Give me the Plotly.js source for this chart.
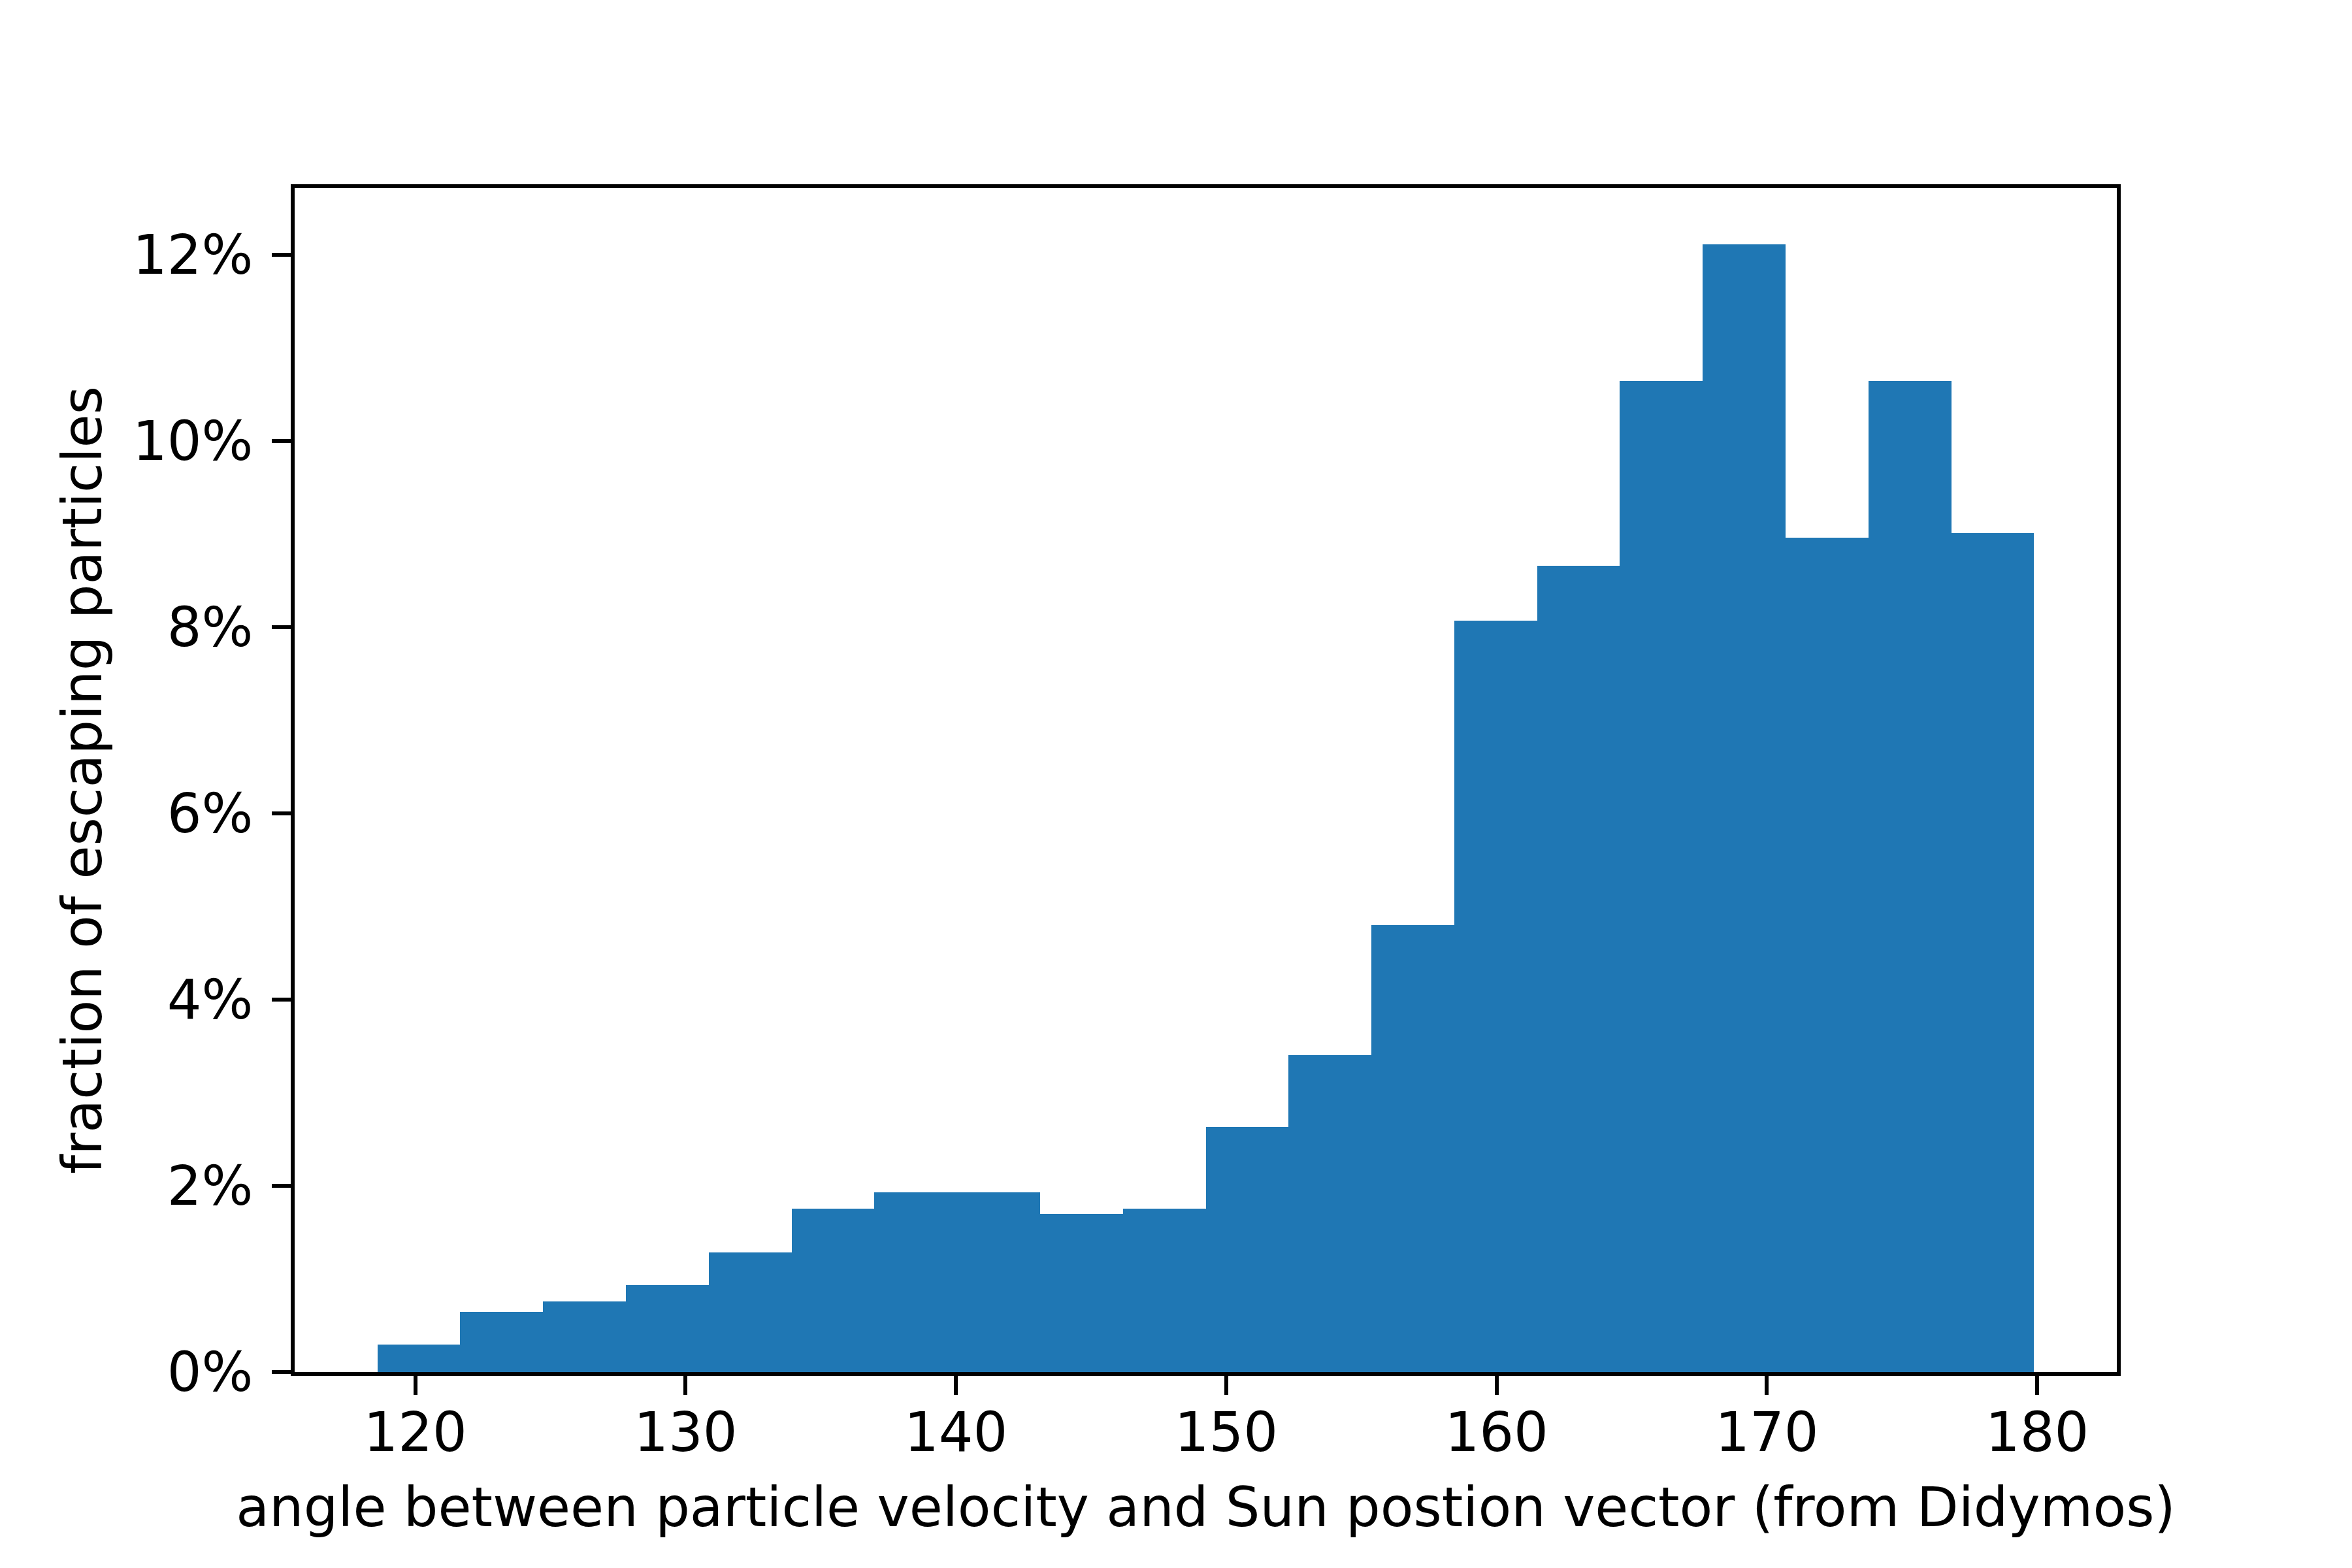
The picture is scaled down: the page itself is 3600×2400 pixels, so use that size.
<!DOCTYPE html>
<html>
<head>
<meta charset="utf-8">
<script src="https://cdn.plot.ly/plotly-3.0.1.min.js"></script>
<style>
  html, body { margin: 0; padding: 0; background: #fff; }
</style>
</head>
<body>
<div id="hist-angle"></div>
<script>
// bin edges (deg), 20 bins
var bin_edges = [118.60, 121.66, 124.73, 127.79, 130.86, 133.92, 136.98,
  140.05, 143.11, 146.18, 149.24, 152.30, 155.37, 158.43, 161.50, 164.56,
  167.62, 170.69, 173.75, 176.82, 179.88];

// fraction of escaping particles per bin (%)
var frac_pct = [0.295, 0.646, 0.758, 0.933, 1.284, 1.754, 1.930, 1.930,
  1.698, 1.754, 2.630, 3.400, 4.800, 8.070, 8.660, 10.645, 12.110, 8.960,
  10.645, 9.010];

var y_ticks = [0, 2, 4, 6, 8, 10, 12];
var y_labels = ['0%', '2%', '4%', '6%', '8%', '10%', '12%'];
var x_ticks = [120, 130, 140, 150, 160, 170, 180];

var mids = [], widths = [];
for (var i = 0; i < frac_pct.length; i++) {
  mids.push((bin_edges[i] + bin_edges[i + 1]) / 2);
  widths.push(bin_edges[i + 1] - bin_edges[i]);
}

var pad = (bin_edges[bin_edges.length - 1] - bin_edges[0]) * 0.05;
var ymax = Math.max.apply(null, frac_pct) * 1.05;

var trace1 = {
  x: mids,
  y: frac_pct,
  width: widths,
  type: 'bar',
  marker: { color: '#1f77b4', line: { width: 0 } },
  hoverinfo: 'skip'
};

var tickfont = { family: 'DejaVu Sans', size: 83, color: '#000' };

var layout = {
  width: 3600,
  height: 2400,
  margin: { l: 451, r: 360, t: 288, b: 300 },
  paper_bgcolor: '#fff',
  plot_bgcolor: '#fff',
  showlegend: false,
  bargap: 0,
  xaxis: {
    range: [bin_edges[0] - pad, bin_edges[bin_edges.length - 1] + pad],
    tickvals: x_ticks,
    ticks: 'outside',
    ticklen: 29,
    tickwidth: 6,
    tickcolor: '#000',
    ticklabelstandoff: -14,
    showline: true,
    linecolor: '#000',
    linewidth: 6,
    mirror: true,
    showgrid: false,
    zeroline: false,
    tickfont: tickfont,
    title: {
      text: 'angle between particle velocity and Sun postion vector (from Didymos)',
      font: tickfont,
      standoff: 40
    },
    automargin: false
  },
  yaxis: {
    range: [0, ymax],
    tickvals: y_ticks,
    ticktext: y_labels,
    ticks: 'outside',
    ticklen: 29,
    tickwidth: 6,
    tickcolor: '#000',
    ticklabelstandoff: 12,
    showline: true,
    linecolor: '#000',
    linewidth: 6,
    mirror: true,
    showgrid: false,
    zeroline: false,
    tickfont: tickfont,
    title: {
      text: 'fraction of escaping particles',
      font: tickfont,
      standoff: 22
    },
    automargin: false
  }
};

Plotly.newPlot('hist-angle', [trace1], layout, { displayModeBar: false, staticPlot: true });
</script>
</body>
</html>
